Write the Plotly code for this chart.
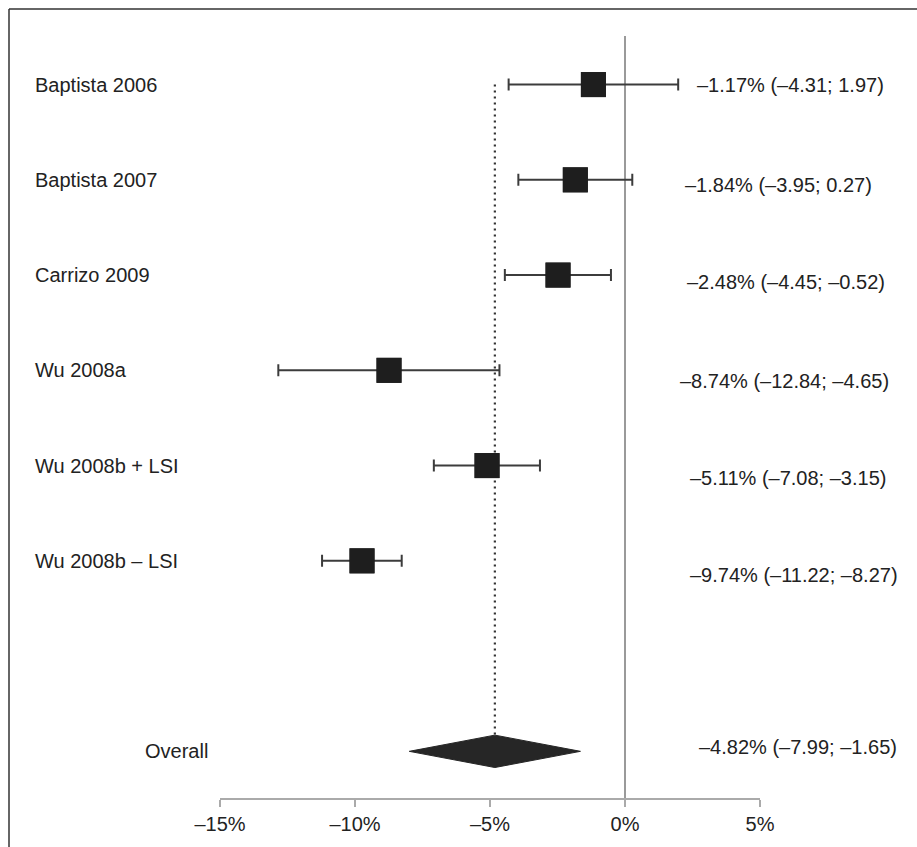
import plotly.graph_objects as go

# ---- data ----
studies = ["Baptista 2006", "Baptista 2007", "Carrizo 2009", "Wu 2008a",
           "Wu 2008b + LSI", "Wu 2008b – LSI"]
effect = [-1.17, -1.84, -2.48, -8.74, -5.11, -9.74]
ci_low = [-4.31, -3.95, -4.45, -12.84, -7.08, -11.22]
ci_high = [1.97, 0.27, -0.52, -4.65, -3.15, -8.27]
overall_label = "Overall"
overall_effect = -4.82
overall_low = -7.99
overall_high = -1.65
tick_vals = [-15, -10, -5, 0, 5]
tick_text = ["–15%", "–10%", "–5%", "0%", "5%"]

# ---- layout geometry (pixels) ----
W, H = 917, 847
ML, MR, MT, MB = 220, 157, 36, 47
row_y = list(range(len(studies)))
overall_y = 7
Y_RANGE = [7.49, -0.51]

def fmt(v):
    s = f"{abs(v):.2f}"
    return ("–" + s) if v < 0 else s

FONT = "Liberation Sans, Arial, Helvetica, sans-serif"
TXT = "#222222"

fig = go.Figure()

# dotted overall reference line
fig.add_trace(go.Scatter(
    x=[overall_effect, overall_effect], y=[row_y[0], overall_y - 0.17],
    mode="lines", line=dict(color="#333333", width=2.2, dash="2px,4px"),
    hoverinfo="skip", showlegend=False))

# study squares with CIs
fig.add_trace(go.Scatter(
    x=effect, y=row_y, mode="markers",
    marker=dict(symbol="square", size=25, color="#1e1e1e",
                line=dict(width=0)),
    error_x=dict(type="data", symmetric=False,
                 array=[h - e for h, e in zip(ci_high, effect)],
                 arrayminus=[e - l for l, e in zip(ci_low, effect)],
                 color="#3c3c3c", thickness=2, width=6),
    showlegend=False))
# re-draw squares on top of error bars
fig.add_trace(go.Scatter(
    x=effect, y=row_y, mode="markers",
    marker=dict(symbol="square", size=25, color="#1e1e1e", line=dict(width=0)),
    showlegend=False, hoverinfo="skip"))

# overall diamond
dh = 0.17
fig.add_trace(go.Scatter(
    x=[overall_low, overall_effect, overall_high, overall_effect, overall_low],
    y=[overall_y, overall_y - dh, overall_y, overall_y + dh, overall_y],
    mode="lines", fill="toself", fillcolor="#262626",
    line=dict(color="#262626", width=1), showlegend=False, hoverinfo="skip"))

pw = W - ML - MR
ph = H - MT - MB
def px_x(p):
    return (p - ML) / pw

def unit_dy(px):
    return px / (ph / (Y_RANGE[0] - Y_RANGE[1]))

annotations = []
# left labels
for name, y in zip(studies, row_y):
    annotations.append(dict(x=px_x(33), xref="paper", y=y, yref="y",
                            text=name, showarrow=False, xanchor="left",
                            yanchor="middle",
                            font=dict(size=20, family=FONT, color=TXT)))
annotations.append(dict(x=px_x(143), xref="paper", y=overall_y, yref="y",
                        text=overall_label, showarrow=False, xanchor="left",
                        yanchor="middle",
                        font=dict(size=20, family=FONT, color=TXT)))

# right labels (effect and CI)
right_x = [695, 683, 685, 678, 688, 688]
right_dy = [0, 5, 7, 11, 12, 14]
for e, l, h, y, rx, dy in zip(effect, ci_low, ci_high, row_y, right_x, right_dy):
    annotations.append(dict(x=px_x(rx), xref="paper", y=y + unit_dy(dy), yref="y",
                            text=f"{fmt(e)}% ({fmt(l)}; {fmt(h)})",
                            showarrow=False, xanchor="left", yanchor="middle",
                            font=dict(size=20, family=FONT, color=TXT)))
annotations.append(dict(x=px_x(697), xref="paper", y=overall_y + unit_dy(-4), yref="y",
                        text=f"{fmt(overall_effect)}% ({fmt(overall_low)}; {fmt(overall_high)})",
                        showarrow=False, xanchor="left", yanchor="middle",
                        font=dict(size=20, family=FONT, color=TXT)))

# frame (left and top borders)
shapes = [
    dict(type="line", xref="paper", yref="paper",
         x0=px_x(9), x1=px_x(9), y0=-0.2, y1=1 + (MT - 9) / ph,
         line=dict(color="#333333", width=1.5)),
    dict(type="line", xref="paper", yref="paper",
         x0=px_x(9), x1=1.6, y0=1 + (MT - 9) / ph, y1=1 + (MT - 9) / ph,
         line=dict(color="#333333", width=1.5)),
]

fig.update_layout(
    width=W, height=H,
    margin=dict(l=ML, r=MR, t=MT, b=MB),
    paper_bgcolor="white", plot_bgcolor="white",
    font=dict(family=FONT, size=20, color=TXT),
    annotations=annotations, shapes=shapes,
    xaxis=dict(range=[-15, 5], tickvals=tick_vals, ticktext=tick_text,
               showgrid=False, zeroline=True, zerolinecolor="#9a9a9a",
               zerolinewidth=1.5, showline=True, linecolor="#aaaaaa",
               linewidth=1.5, ticks="outside", ticklen=7, tickcolor="#aaaaaa",
               tickwidth=1.5, tickfont=dict(size=20, family=FONT, color=TXT),
               fixedrange=True),
    yaxis=dict(range=Y_RANGE, visible=False, showgrid=False, zeroline=False,
               fixedrange=True),
    showlegend=False,
)

fig.write_html("out.html", config={"displayModeBar": False},
               post_script="document.body.style.margin='0';document.body.style.overflow='hidden';")
